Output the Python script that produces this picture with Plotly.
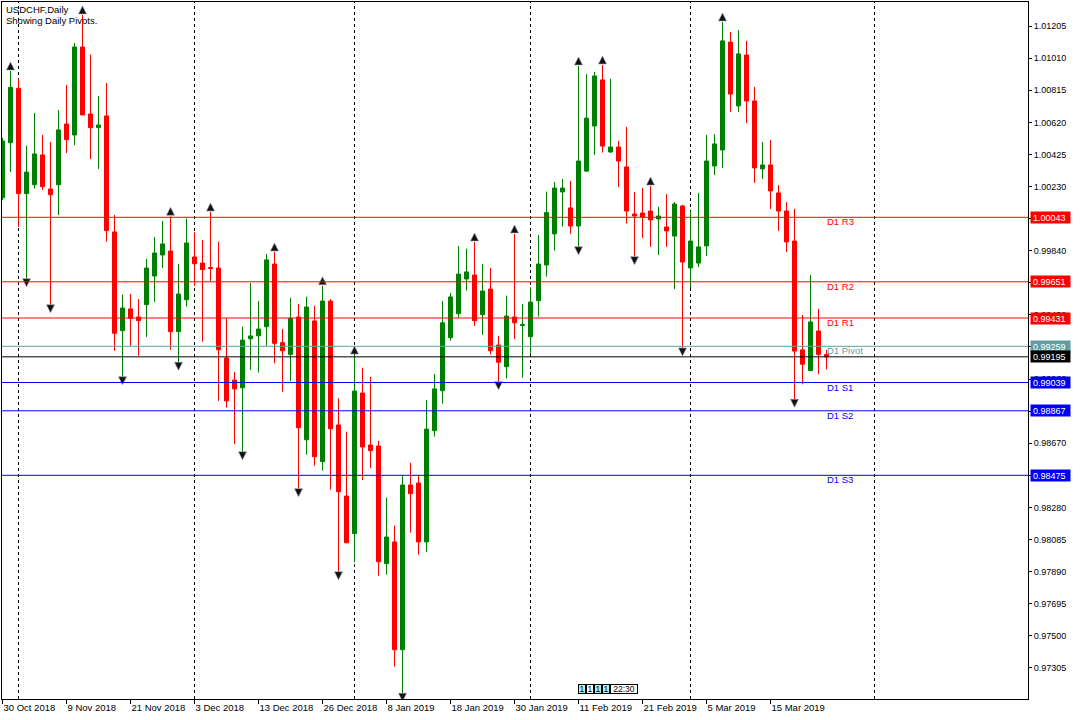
import plotly.graph_objects as go
import pandas as pd

# ---------------- data ----------------
symbol_title = "USDCHF,Daily"
subtitle = "Showing Daily Pivots."

holidays = ["2018-12-25", "2019-01-01"]
dates = [d for d in pd.bdate_range("2018-10-30", "2019-03-26")
         if d.strftime("%Y-%m-%d") not in holidays]

opens = [1.00162, 1.00496, 1.00827, 1.00187, 1.00241, 1.00422, 1.00215, 1.00241, 1.00610, 1.00543,
         1.01078, 1.00671, 1.00588, 1.00659, 0.99954, 0.99354, 0.99486, 0.99437, 0.99512, 0.99686,
         0.99814, 0.99838, 0.99348, 0.99542, 0.99802, 0.99765, 0.99738, 0.99735, 0.99188, 0.99054,
         0.99007, 0.99305, 0.99323, 0.99378, 0.99759, 0.99281, 0.99210, 0.99437, 0.98691, 0.99413,
         0.98558, 0.99534, 0.98781, 0.98349, 0.98121, 0.98975, 0.98659, 0.98653, 0.97938, 0.98070,
         0.97415, 0.98416, 0.98428, 0.98070, 0.98746, 0.98989, 0.99311, 0.99457, 0.99668, 0.99692,
         0.99451, 0.99607, 0.99267, 0.99135, 0.99437, 0.99385, 0.99317, 0.99536, 0.99753, 0.99942,
         1.00197, 1.00100, 0.99990, 1.00324, 1.00598, 1.00878, 1.00440, 1.00470, 1.00349, 1.00063,
         1.00069, 1.00081, 1.00033, 0.99984, 0.99929, 1.00112, 0.99735, 0.99765, 0.99869, 1.00355,
         1.00452, 1.01108, 1.00720, 1.01029, 1.00750, 1.00337, 1.00361, 1.00191, 1.00081, 0.99899,
         0.99237, 0.99111, 0.99352, 0.99209]
highs = [1.00525, 1.00932, 1.00884, 1.00478, 1.00677, 1.00543, 1.00501, 1.00695, 1.00847, 1.01102,
         1.01273, 1.01031, 1.00780, 1.00859, 1.00057, 0.99573, 0.99577, 0.99546, 0.99790, 0.99923,
         1.00021, 1.00049, 0.99759, 1.00035, 0.99952, 0.99905, 1.00075, 0.99895, 0.99429, 0.99103,
         0.99378, 0.99644, 0.99534, 0.99820, 0.99832, 0.99364, 0.99554, 0.99516, 0.99560, 0.99506,
         0.99627, 0.99546, 0.98943, 0.98740, 0.99206, 0.99129, 0.99074, 0.98685, 0.98339, 0.98169,
         0.98475, 0.98550, 0.98475, 0.98933, 0.99091, 0.99534, 0.99583, 0.99869, 0.99852, 0.99893,
         0.99759, 0.99735, 0.99323, 0.99567, 0.99942, 0.99516, 0.99618, 0.99935, 1.00199, 1.00258,
         1.00276, 1.00264, 1.00963, 1.00914, 1.00926, 1.00969, 1.00884, 1.00507, 1.00592, 1.00197,
         1.00221, 1.00233, 1.00106, 1.00185, 1.00136, 1.00118, 1.00081, 1.00191, 1.00543, 1.00549,
         1.01230, 1.01169, 1.01181, 1.01115, 1.00835, 1.00501, 1.00513, 1.00239, 1.00136, 1.00094,
         0.99449, 0.99692, 0.99486, 0.99237]
lows = [1.00148, 1.00318, 0.99986, 0.99670, 1.00217, 1.00209, 0.99512, 1.00057, 1.00434, 1.00482,
        1.00665, 1.00397, 1.00337, 0.99895, 0.99232, 0.99074, 0.99261, 0.99202, 0.99316, 0.99528,
        0.99735, 0.99238, 0.99162, 0.99500, 0.99626, 0.99287, 0.99656, 0.98927, 0.98886, 0.98665,
        0.98618, 0.99115, 0.99099, 0.99261, 0.99156, 0.98983, 0.99048, 0.98394, 0.98600, 0.98533,
        0.98503, 0.98388, 0.97889, 0.98065, 0.97946, 0.98446, 0.98518, 0.97865, 0.97871, 0.97312,
        0.97150, 0.98126, 0.97992, 0.98009, 0.98710, 0.98910, 0.99293, 0.99433, 0.99597, 0.99384,
        0.99328, 0.99210, 0.99044, 0.99064, 0.99303, 0.99068, 0.99210, 0.99439, 0.99682, 0.99840,
        0.99986, 0.99942, 0.99864, 1.00318, 1.00422, 1.00436, 1.00434, 1.00227, 1.00004, 0.99804,
        0.99917, 0.99863, 0.99814, 0.99863, 0.99607, 0.99249, 0.99613, 0.99741, 0.99808, 1.00300,
        1.00343, 1.00684, 1.00684, 1.00616, 1.00252, 1.00276, 1.00094, 0.99960, 0.99832, 0.98937,
        0.99028, 0.99111, 0.99089, 0.99119]
closes = [1.00507, 1.00833, 1.00187, 1.00318, 1.00428, 1.00229, 1.00180, 1.00574, 1.00515, 1.01078,
          1.00665, 1.00588, 1.00604, 0.99962, 0.99338, 0.99492, 0.99429, 0.99415, 0.99735, 0.99826,
          0.99881, 0.99348, 0.99577, 0.99887, 0.99761, 0.99725, 0.99732, 0.99238, 0.98927, 0.99000,
          0.99297, 0.99322, 0.99364, 0.99784, 0.99277, 0.99232, 0.99429, 0.98764, 0.99498, 0.98588,
          0.99534, 0.98758, 0.98375, 0.98065, 0.98987, 0.98647, 0.98625, 0.97950, 0.98100, 0.97415,
          0.98416, 0.98363, 0.98070, 0.98756, 0.99000, 0.99402, 0.99559, 0.99698, 0.99711, 0.99415,
          0.99595, 0.99232, 0.99162, 0.99443, 0.99402, 0.99392, 0.99528, 0.99759, 1.00072, 1.00221,
          1.00221, 0.99990, 1.00385, 1.00646, 1.00902, 1.00476, 1.00470, 1.00385, 1.00081, 1.00051,
          1.00045, 1.00027, 1.00051, 0.99960, 1.00124, 0.99771, 0.99899, 0.99863, 1.00385, 1.00489,
          1.01115, 1.00792, 1.01036, 1.00750, 1.00343, 1.00361, 1.00203, 1.00081, 0.99893, 0.99230,
          0.99150, 0.99407, 0.99210, 0.99195]

# Bill Williams fractal bars (bar indices)
up_fractals = [1, 10, 21, 26, 34, 40, 44, 59, 64, 72, 75, 81, 90]
down_fractals = [3, 6, 15, 22, 30, 37, 42, 50, 62, 72, 79, 85, 99]

# Daily pivot levels
pivot_names = ["D1 R3", "D1 R2", "D1 R1", "D1 Pivot", "D1 S1", "D1 S2", "D1 S3"]
pivot_values = [1.00043, 0.99651, 0.99431, 0.99259, 0.99039, 0.98867, 0.98475]
current_price = 0.99195

y_ticks = [1.01205, 1.01010, 1.00815, 1.00620, 1.00425, 1.00230, 1.00035, 0.99840, 0.99645,
           0.99450, 0.99255, 0.99060, 0.98865, 0.98670, 0.98475, 0.98280, 0.98085, 0.97890,
           0.97695, 0.97500, 0.97305]

future_separator = 109  # period separator drawn in the chart's future area

event_labels = ["1", "1", "1", "1", "22:30"]
event_date = "2019-02-11"

# ---------------- style ----------------
GREEN = "#008000"
RED = "#FF0000"
BLUE = "#0000FF"
TEAL = "#5F9EA0"
CYAN = "#AEEEEE"
FONT = "Liberation Sans"
level_colors = [RED, RED, RED, TEAL, BLUE, BLUE, BLUE]
event_bg = [CYAN, "white", CYAN, CYAN, "white"]
event_w = [6, 6, 6, 6, 26]

PX = (1.013515 - 0.971155) / 697.0   # price per pixel
UP_OFF = 9 * PX
DN_OFF = 8 * PX

n = len(opens)
idx = list(range(n))
is_up = [c >= o for o, c in zip(opens, closes)]
colors = [GREEN if u else RED for u in is_up]

fig = go.Figure()

# wicks
for col, flag in ((GREEN, True), (RED, False)):
    wx, wy = [], []
    for i in idx:
        if is_up[i] == flag:
            wx += [i, i, None]
            wy += [lows[i], highs[i], None]
    fig.add_trace(go.Scatter(x=wx, y=wy, mode="lines", line=dict(color=col, width=1),
                             hoverinfo="skip", showlegend=False))

# bodies
fig.add_trace(go.Bar(
    x=idx,
    base=[min(o, c) for o, c in zip(opens, closes)],
    y=[abs(c - o) for o, c in zip(opens, closes)],
    width=0.5,
    marker=dict(color=colors, line=dict(color=colors, width=1)),
    hoverinfo="skip", showlegend=False))

# fractals
fig.add_trace(go.Scatter(
    x=up_fractals, y=[highs[i] + UP_OFF for i in up_fractals], mode="markers",
    marker=dict(symbol="arrow-up", size=8, color="#111111", line=dict(color="#8899aa", width=0.6)),
    hoverinfo="skip", showlegend=False))
fig.add_trace(go.Scatter(
    x=down_fractals, y=[lows[i] - DN_OFF for i in down_fractals], mode="markers",
    marker=dict(symbol="arrow-down", size=8, color="#111111", line=dict(color="#8899aa", width=0.6)),
    hoverinfo="skip", showlegend=False))

# month separators
seps = [i for i in range(1, n) if dates[i].month != dates[i - 1].month] + [future_separator]
for s in seps:
    fig.add_shape(type="line", x0=s, x1=s, xref="x", y0=0, y1=1, yref="paper",
                  line=dict(color="black", width=1, dash="3px,3px"), layer="below")

# pivot lines + labels + price boxes
for name, val, col in zip(pivot_names, pivot_values, level_colors):
    fig.add_shape(type="line", x0=0, x1=1, xref="paper", y0=val, y1=val, yref="y",
                  line=dict(color=col, width=1))
    fig.add_annotation(x=n - 1, xref="x", y=val, yref="y", text=name, showarrow=False,
                       xanchor="left", yanchor="top", xshift=-1, yshift=2,
                       font=dict(family=FONT, size=9.5, color=col), borderpad=0)

fig.add_shape(type="line", x0=0, x1=1, xref="paper", y0=current_price, y1=current_price,
              yref="y", line=dict(color="black", width=1))

for val, col in list(zip(pivot_values, level_colors)) + [(current_price, "black")]:
    fig.add_annotation(x=1, xref="paper", xanchor="left", xshift=2, y=val, yref="y",
                       yanchor="middle", text=f"{val:.5f}", showarrow=False,
                       bgcolor=col, font=dict(family=FONT, size=9, color="white"),
                       borderpad=2, width=35, height=7, align="left")

# title text
fig.add_annotation(x=0, xref="paper", y=1, yref="paper", xanchor="left", yanchor="top",
                   xshift=3, yshift=-1, text=symbol_title, showarrow=False,
                   font=dict(family=FONT, size=9.5, color="black"), borderpad=0)
fig.add_annotation(x=0, xref="paper", y=1, yref="paper", xanchor="left", yanchor="top",
                   xshift=3, yshift=-12, text=subtitle, showarrow=False,
                   font=dict(family=FONT, size=9.5, color="black"), borderpad=0)

# event markers
ev_i = [i for i, d in enumerate(dates) if d.strftime("%Y-%m-%d") == event_date][0]
shift = 0
for lab, bg, w in zip(event_labels, event_bg, event_w):
    fig.add_annotation(x=ev_i, xref="x", y=0, yref="paper", xanchor="left", yanchor="bottom",
                       xshift=shift - 0.5, yshift=5, text=lab, showarrow=False, bgcolor=bg,
                       bordercolor="black", borderwidth=1, borderpad=0, width=w, height=8,
                       font=dict(family=FONT, size=8.5, color="black"))
    shift += w + 2

# axes
tick_idx = list(range(0, n, 8))
tick_txt = [f"{dates[i].day} {dates[i].strftime('%b %Y')}" for i in tick_idx]

x0 = -0.0625
fig.update_xaxes(range=[x0, x0 + 1026 / 8], tickmode="array", tickvals=tick_idx, ticktext=tick_txt,
                 ticks="outside", ticklen=4, tickcolor="black", showgrid=False, zeroline=False,
                 showline=True, linecolor="black", linewidth=1, mirror=True,
                 ticklabelposition="outside right",
                 tickfont=dict(family=FONT, size=9.5, color="black"))
fig.update_yaxes(range=[0.971155, 1.013515], side="right", tickmode="array", tickvals=y_ticks,
                 ticktext=[f"{v:.5f}" for v in y_ticks], ticks="outside", ticklen=3,
                 tickcolor="black", showgrid=False, zeroline=False, showline=True,
                 linecolor="black", linewidth=1, mirror=True,
                 tickfont=dict(family=FONT, size=9, color="black"))

fig.update_layout(width=1080, height=720, margin=dict(l=2, r=52, t=2, b=21, pad=0),
                  paper_bgcolor="white", plot_bgcolor="white", barmode="overlay",
                  showlegend=False, hovermode=False)

fig.write_html("out.html", config={"displayModeBar": False},
               post_script="document.body.style.margin='0';document.body.style.overflow='hidden';")
